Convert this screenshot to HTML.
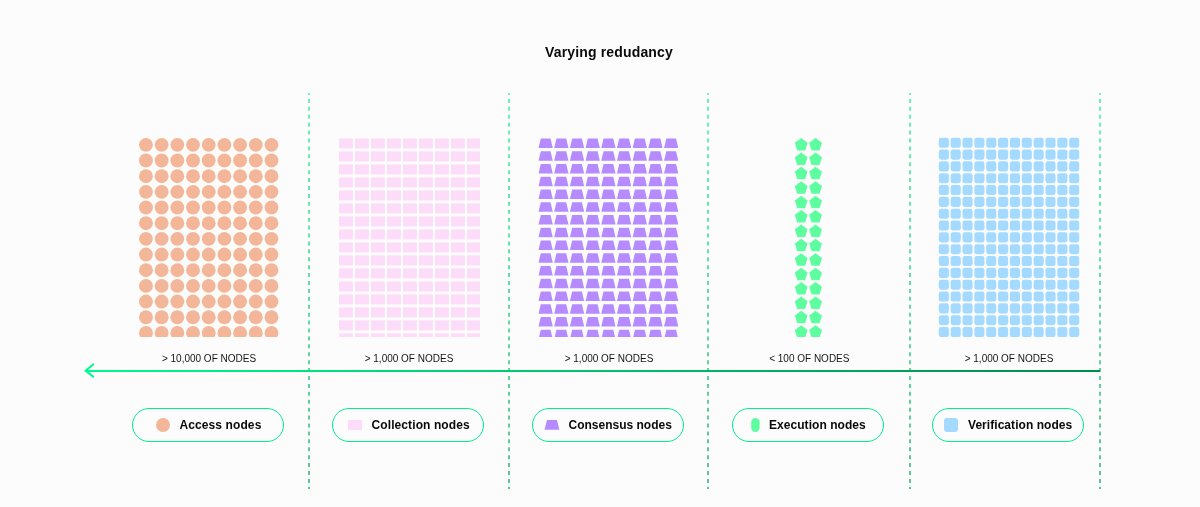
<!DOCTYPE html>
<html><head><meta charset="utf-8"><title>Varying redundancy</title>
<style>
html,body{margin:0;padding:0;background:#fcfcfc;}
body{width:1200px;height:507px;overflow:hidden;position:relative;font-family:"Liberation Sans",sans-serif;}
svg{position:absolute;left:0;top:0;display:block;will-change:transform}
</style></head><body>
<svg width="1200" height="507" viewBox="0 0 1200 507">
<defs>
<clipPath id="gc"><rect x="0" y="0" width="1200" height="337"/></clipPath>
<clipPath id="gc2"><rect x="0" y="0" width="480" height="337"/></clipPath>
<linearGradient id="vg" x1="0" y1="93" x2="0" y2="489" gradientUnits="userSpaceOnUse">
<stop offset="0" stop-color="#6ff2b8"/><stop offset="1" stop-color="#5bc594"/>
</linearGradient>
<linearGradient id="hg" x1="84" y1="0" x2="1100" y2="0" gradientUnits="userSpaceOnUse">
<stop offset="0" stop-color="#00fa8f"/><stop offset="1" stop-color="#008d4a"/>
</linearGradient>
</defs>
<text x="609" y="57.2" text-anchor="middle" font-family="Liberation Sans" font-weight="bold" font-size="14" letter-spacing="0.15" fill="#0a0a0a">Varying redudancy</text>
<g stroke="url(#vg)" stroke-width="2" stroke-dasharray="4 3.917" stroke-dashoffset="2" fill="none">
<line x1="309" y1="93" x2="309" y2="489"/>
<line x1="509" y1="93" x2="509" y2="489"/>
<line x1="708" y1="93" x2="708" y2="489"/>
<line x1="910" y1="93" x2="910" y2="489"/>
<line x1="1100" y1="93" x2="1100" y2="489"/>
</g>
<g clip-path="url(#gc)">
<g fill="#f4b698"><circle cx="145.95" cy="144.85" r="6.95"/><circle cx="161.64" cy="144.85" r="6.95"/><circle cx="177.33" cy="144.85" r="6.95"/><circle cx="193.02" cy="144.85" r="6.95"/><circle cx="208.71" cy="144.85" r="6.95"/><circle cx="224.4" cy="144.85" r="6.95"/><circle cx="240.09" cy="144.85" r="6.95"/><circle cx="255.78" cy="144.85" r="6.95"/><circle cx="271.47" cy="144.85" r="6.95"/><circle cx="145.95" cy="160.52" r="6.95"/><circle cx="161.64" cy="160.52" r="6.95"/><circle cx="177.33" cy="160.52" r="6.95"/><circle cx="193.02" cy="160.52" r="6.95"/><circle cx="208.71" cy="160.52" r="6.95"/><circle cx="224.4" cy="160.52" r="6.95"/><circle cx="240.09" cy="160.52" r="6.95"/><circle cx="255.78" cy="160.52" r="6.95"/><circle cx="271.47" cy="160.52" r="6.95"/><circle cx="145.95" cy="176.19" r="6.95"/><circle cx="161.64" cy="176.19" r="6.95"/><circle cx="177.33" cy="176.19" r="6.95"/><circle cx="193.02" cy="176.19" r="6.95"/><circle cx="208.71" cy="176.19" r="6.95"/><circle cx="224.4" cy="176.19" r="6.95"/><circle cx="240.09" cy="176.19" r="6.95"/><circle cx="255.78" cy="176.19" r="6.95"/><circle cx="271.47" cy="176.19" r="6.95"/><circle cx="145.95" cy="191.86" r="6.95"/><circle cx="161.64" cy="191.86" r="6.95"/><circle cx="177.33" cy="191.86" r="6.95"/><circle cx="193.02" cy="191.86" r="6.95"/><circle cx="208.71" cy="191.86" r="6.95"/><circle cx="224.4" cy="191.86" r="6.95"/><circle cx="240.09" cy="191.86" r="6.95"/><circle cx="255.78" cy="191.86" r="6.95"/><circle cx="271.47" cy="191.86" r="6.95"/><circle cx="145.95" cy="207.53" r="6.95"/><circle cx="161.64" cy="207.53" r="6.95"/><circle cx="177.33" cy="207.53" r="6.95"/><circle cx="193.02" cy="207.53" r="6.95"/><circle cx="208.71" cy="207.53" r="6.95"/><circle cx="224.4" cy="207.53" r="6.95"/><circle cx="240.09" cy="207.53" r="6.95"/><circle cx="255.78" cy="207.53" r="6.95"/><circle cx="271.47" cy="207.53" r="6.95"/><circle cx="145.95" cy="223.2" r="6.95"/><circle cx="161.64" cy="223.2" r="6.95"/><circle cx="177.33" cy="223.2" r="6.95"/><circle cx="193.02" cy="223.2" r="6.95"/><circle cx="208.71" cy="223.2" r="6.95"/><circle cx="224.4" cy="223.2" r="6.95"/><circle cx="240.09" cy="223.2" r="6.95"/><circle cx="255.78" cy="223.2" r="6.95"/><circle cx="271.47" cy="223.2" r="6.95"/><circle cx="145.95" cy="238.87" r="6.95"/><circle cx="161.64" cy="238.87" r="6.95"/><circle cx="177.33" cy="238.87" r="6.95"/><circle cx="193.02" cy="238.87" r="6.95"/><circle cx="208.71" cy="238.87" r="6.95"/><circle cx="224.4" cy="238.87" r="6.95"/><circle cx="240.09" cy="238.87" r="6.95"/><circle cx="255.78" cy="238.87" r="6.95"/><circle cx="271.47" cy="238.87" r="6.95"/><circle cx="145.95" cy="254.54" r="6.95"/><circle cx="161.64" cy="254.54" r="6.95"/><circle cx="177.33" cy="254.54" r="6.95"/><circle cx="193.02" cy="254.54" r="6.95"/><circle cx="208.71" cy="254.54" r="6.95"/><circle cx="224.4" cy="254.54" r="6.95"/><circle cx="240.09" cy="254.54" r="6.95"/><circle cx="255.78" cy="254.54" r="6.95"/><circle cx="271.47" cy="254.54" r="6.95"/><circle cx="145.95" cy="270.21" r="6.95"/><circle cx="161.64" cy="270.21" r="6.95"/><circle cx="177.33" cy="270.21" r="6.95"/><circle cx="193.02" cy="270.21" r="6.95"/><circle cx="208.71" cy="270.21" r="6.95"/><circle cx="224.4" cy="270.21" r="6.95"/><circle cx="240.09" cy="270.21" r="6.95"/><circle cx="255.78" cy="270.21" r="6.95"/><circle cx="271.47" cy="270.21" r="6.95"/><circle cx="145.95" cy="285.88" r="6.95"/><circle cx="161.64" cy="285.88" r="6.95"/><circle cx="177.33" cy="285.88" r="6.95"/><circle cx="193.02" cy="285.88" r="6.95"/><circle cx="208.71" cy="285.88" r="6.95"/><circle cx="224.4" cy="285.88" r="6.95"/><circle cx="240.09" cy="285.88" r="6.95"/><circle cx="255.78" cy="285.88" r="6.95"/><circle cx="271.47" cy="285.88" r="6.95"/><circle cx="145.95" cy="301.55" r="6.95"/><circle cx="161.64" cy="301.55" r="6.95"/><circle cx="177.33" cy="301.55" r="6.95"/><circle cx="193.02" cy="301.55" r="6.95"/><circle cx="208.71" cy="301.55" r="6.95"/><circle cx="224.4" cy="301.55" r="6.95"/><circle cx="240.09" cy="301.55" r="6.95"/><circle cx="255.78" cy="301.55" r="6.95"/><circle cx="271.47" cy="301.55" r="6.95"/><circle cx="145.95" cy="317.22" r="6.95"/><circle cx="161.64" cy="317.22" r="6.95"/><circle cx="177.33" cy="317.22" r="6.95"/><circle cx="193.02" cy="317.22" r="6.95"/><circle cx="208.71" cy="317.22" r="6.95"/><circle cx="224.4" cy="317.22" r="6.95"/><circle cx="240.09" cy="317.22" r="6.95"/><circle cx="255.78" cy="317.22" r="6.95"/><circle cx="271.47" cy="317.22" r="6.95"/><circle cx="145.95" cy="332.89" r="6.95"/><circle cx="161.64" cy="332.89" r="6.95"/><circle cx="177.33" cy="332.89" r="6.95"/><circle cx="193.02" cy="332.89" r="6.95"/><circle cx="208.71" cy="332.89" r="6.95"/><circle cx="224.4" cy="332.89" r="6.95"/><circle cx="240.09" cy="332.89" r="6.95"/><circle cx="255.78" cy="332.89" r="6.95"/><circle cx="271.47" cy="332.89" r="6.95"/></g>
<g fill="#fddcfa" clip-path="url(#gc2)"><rect x="339" y="138.4" width="13.9" height="10"/><rect x="355" y="138.4" width="13.9" height="10"/><rect x="371" y="138.4" width="13.9" height="10"/><rect x="387" y="138.4" width="13.9" height="10"/><rect x="403" y="138.4" width="13.9" height="10"/><rect x="419" y="138.4" width="13.9" height="10"/><rect x="435" y="138.4" width="13.9" height="10"/><rect x="451" y="138.4" width="13.9" height="10"/><rect x="467" y="138.4" width="13.9" height="10"/><rect x="339" y="151.4" width="13.9" height="10"/><rect x="355" y="151.4" width="13.9" height="10"/><rect x="371" y="151.4" width="13.9" height="10"/><rect x="387" y="151.4" width="13.9" height="10"/><rect x="403" y="151.4" width="13.9" height="10"/><rect x="419" y="151.4" width="13.9" height="10"/><rect x="435" y="151.4" width="13.9" height="10"/><rect x="451" y="151.4" width="13.9" height="10"/><rect x="467" y="151.4" width="13.9" height="10"/><rect x="339" y="164.4" width="13.9" height="10"/><rect x="355" y="164.4" width="13.9" height="10"/><rect x="371" y="164.4" width="13.9" height="10"/><rect x="387" y="164.4" width="13.9" height="10"/><rect x="403" y="164.4" width="13.9" height="10"/><rect x="419" y="164.4" width="13.9" height="10"/><rect x="435" y="164.4" width="13.9" height="10"/><rect x="451" y="164.4" width="13.9" height="10"/><rect x="467" y="164.4" width="13.9" height="10"/><rect x="339" y="177.4" width="13.9" height="10"/><rect x="355" y="177.4" width="13.9" height="10"/><rect x="371" y="177.4" width="13.9" height="10"/><rect x="387" y="177.4" width="13.9" height="10"/><rect x="403" y="177.4" width="13.9" height="10"/><rect x="419" y="177.4" width="13.9" height="10"/><rect x="435" y="177.4" width="13.9" height="10"/><rect x="451" y="177.4" width="13.9" height="10"/><rect x="467" y="177.4" width="13.9" height="10"/><rect x="339" y="190.4" width="13.9" height="10"/><rect x="355" y="190.4" width="13.9" height="10"/><rect x="371" y="190.4" width="13.9" height="10"/><rect x="387" y="190.4" width="13.9" height="10"/><rect x="403" y="190.4" width="13.9" height="10"/><rect x="419" y="190.4" width="13.9" height="10"/><rect x="435" y="190.4" width="13.9" height="10"/><rect x="451" y="190.4" width="13.9" height="10"/><rect x="467" y="190.4" width="13.9" height="10"/><rect x="339" y="203.4" width="13.9" height="10"/><rect x="355" y="203.4" width="13.9" height="10"/><rect x="371" y="203.4" width="13.9" height="10"/><rect x="387" y="203.4" width="13.9" height="10"/><rect x="403" y="203.4" width="13.9" height="10"/><rect x="419" y="203.4" width="13.9" height="10"/><rect x="435" y="203.4" width="13.9" height="10"/><rect x="451" y="203.4" width="13.9" height="10"/><rect x="467" y="203.4" width="13.9" height="10"/><rect x="339" y="216.4" width="13.9" height="10"/><rect x="355" y="216.4" width="13.9" height="10"/><rect x="371" y="216.4" width="13.9" height="10"/><rect x="387" y="216.4" width="13.9" height="10"/><rect x="403" y="216.4" width="13.9" height="10"/><rect x="419" y="216.4" width="13.9" height="10"/><rect x="435" y="216.4" width="13.9" height="10"/><rect x="451" y="216.4" width="13.9" height="10"/><rect x="467" y="216.4" width="13.9" height="10"/><rect x="339" y="229.4" width="13.9" height="10"/><rect x="355" y="229.4" width="13.9" height="10"/><rect x="371" y="229.4" width="13.9" height="10"/><rect x="387" y="229.4" width="13.9" height="10"/><rect x="403" y="229.4" width="13.9" height="10"/><rect x="419" y="229.4" width="13.9" height="10"/><rect x="435" y="229.4" width="13.9" height="10"/><rect x="451" y="229.4" width="13.9" height="10"/><rect x="467" y="229.4" width="13.9" height="10"/><rect x="339" y="242.4" width="13.9" height="10"/><rect x="355" y="242.4" width="13.9" height="10"/><rect x="371" y="242.4" width="13.9" height="10"/><rect x="387" y="242.4" width="13.9" height="10"/><rect x="403" y="242.4" width="13.9" height="10"/><rect x="419" y="242.4" width="13.9" height="10"/><rect x="435" y="242.4" width="13.9" height="10"/><rect x="451" y="242.4" width="13.9" height="10"/><rect x="467" y="242.4" width="13.9" height="10"/><rect x="339" y="255.4" width="13.9" height="10"/><rect x="355" y="255.4" width="13.9" height="10"/><rect x="371" y="255.4" width="13.9" height="10"/><rect x="387" y="255.4" width="13.9" height="10"/><rect x="403" y="255.4" width="13.9" height="10"/><rect x="419" y="255.4" width="13.9" height="10"/><rect x="435" y="255.4" width="13.9" height="10"/><rect x="451" y="255.4" width="13.9" height="10"/><rect x="467" y="255.4" width="13.9" height="10"/><rect x="339" y="268.4" width="13.9" height="10"/><rect x="355" y="268.4" width="13.9" height="10"/><rect x="371" y="268.4" width="13.9" height="10"/><rect x="387" y="268.4" width="13.9" height="10"/><rect x="403" y="268.4" width="13.9" height="10"/><rect x="419" y="268.4" width="13.9" height="10"/><rect x="435" y="268.4" width="13.9" height="10"/><rect x="451" y="268.4" width="13.9" height="10"/><rect x="467" y="268.4" width="13.9" height="10"/><rect x="339" y="281.4" width="13.9" height="10"/><rect x="355" y="281.4" width="13.9" height="10"/><rect x="371" y="281.4" width="13.9" height="10"/><rect x="387" y="281.4" width="13.9" height="10"/><rect x="403" y="281.4" width="13.9" height="10"/><rect x="419" y="281.4" width="13.9" height="10"/><rect x="435" y="281.4" width="13.9" height="10"/><rect x="451" y="281.4" width="13.9" height="10"/><rect x="467" y="281.4" width="13.9" height="10"/><rect x="339" y="294.4" width="13.9" height="10"/><rect x="355" y="294.4" width="13.9" height="10"/><rect x="371" y="294.4" width="13.9" height="10"/><rect x="387" y="294.4" width="13.9" height="10"/><rect x="403" y="294.4" width="13.9" height="10"/><rect x="419" y="294.4" width="13.9" height="10"/><rect x="435" y="294.4" width="13.9" height="10"/><rect x="451" y="294.4" width="13.9" height="10"/><rect x="467" y="294.4" width="13.9" height="10"/><rect x="339" y="307.4" width="13.9" height="10"/><rect x="355" y="307.4" width="13.9" height="10"/><rect x="371" y="307.4" width="13.9" height="10"/><rect x="387" y="307.4" width="13.9" height="10"/><rect x="403" y="307.4" width="13.9" height="10"/><rect x="419" y="307.4" width="13.9" height="10"/><rect x="435" y="307.4" width="13.9" height="10"/><rect x="451" y="307.4" width="13.9" height="10"/><rect x="467" y="307.4" width="13.9" height="10"/><rect x="339" y="320.4" width="13.9" height="10"/><rect x="355" y="320.4" width="13.9" height="10"/><rect x="371" y="320.4" width="13.9" height="10"/><rect x="387" y="320.4" width="13.9" height="10"/><rect x="403" y="320.4" width="13.9" height="10"/><rect x="419" y="320.4" width="13.9" height="10"/><rect x="435" y="320.4" width="13.9" height="10"/><rect x="451" y="320.4" width="13.9" height="10"/><rect x="467" y="320.4" width="13.9" height="10"/><rect x="339" y="333.4" width="13.9" height="10"/><rect x="355" y="333.4" width="13.9" height="10"/><rect x="371" y="333.4" width="13.9" height="10"/><rect x="387" y="333.4" width="13.9" height="10"/><rect x="403" y="333.4" width="13.9" height="10"/><rect x="419" y="333.4" width="13.9" height="10"/><rect x="435" y="333.4" width="13.9" height="10"/><rect x="451" y="333.4" width="13.9" height="10"/><rect x="467" y="333.4" width="13.9" height="10"/></g>
<g fill="#b68bff"><path d="M540.8 138.5h9.7l2.3 9.6h-14.3z"/><path d="M556.49 138.5h9.7l2.3 9.6h-14.3z"/><path d="M572.18 138.5h9.7l2.3 9.6h-14.3z"/><path d="M587.87 138.5h9.7l2.3 9.6h-14.3z"/><path d="M603.56 138.5h9.7l2.3 9.6h-14.3z"/><path d="M619.25 138.5h9.7l2.3 9.6h-14.3z"/><path d="M634.94 138.5h9.7l2.3 9.6h-14.3z"/><path d="M650.63 138.5h9.7l2.3 9.6h-14.3z"/><path d="M666.32 138.5h9.7l2.3 9.6h-14.3z"/><path d="M540.8 151.25h9.7l2.3 9.6h-14.3z"/><path d="M556.49 151.25h9.7l2.3 9.6h-14.3z"/><path d="M572.18 151.25h9.7l2.3 9.6h-14.3z"/><path d="M587.87 151.25h9.7l2.3 9.6h-14.3z"/><path d="M603.56 151.25h9.7l2.3 9.6h-14.3z"/><path d="M619.25 151.25h9.7l2.3 9.6h-14.3z"/><path d="M634.94 151.25h9.7l2.3 9.6h-14.3z"/><path d="M650.63 151.25h9.7l2.3 9.6h-14.3z"/><path d="M666.32 151.25h9.7l2.3 9.6h-14.3z"/><path d="M540.8 164h9.7l2.3 9.6h-14.3z"/><path d="M556.49 164h9.7l2.3 9.6h-14.3z"/><path d="M572.18 164h9.7l2.3 9.6h-14.3z"/><path d="M587.87 164h9.7l2.3 9.6h-14.3z"/><path d="M603.56 164h9.7l2.3 9.6h-14.3z"/><path d="M619.25 164h9.7l2.3 9.6h-14.3z"/><path d="M634.94 164h9.7l2.3 9.6h-14.3z"/><path d="M650.63 164h9.7l2.3 9.6h-14.3z"/><path d="M666.32 164h9.7l2.3 9.6h-14.3z"/><path d="M540.8 176.75h9.7l2.3 9.6h-14.3z"/><path d="M556.49 176.75h9.7l2.3 9.6h-14.3z"/><path d="M572.18 176.75h9.7l2.3 9.6h-14.3z"/><path d="M587.87 176.75h9.7l2.3 9.6h-14.3z"/><path d="M603.56 176.75h9.7l2.3 9.6h-14.3z"/><path d="M619.25 176.75h9.7l2.3 9.6h-14.3z"/><path d="M634.94 176.75h9.7l2.3 9.6h-14.3z"/><path d="M650.63 176.75h9.7l2.3 9.6h-14.3z"/><path d="M666.32 176.75h9.7l2.3 9.6h-14.3z"/><path d="M540.8 189.5h9.7l2.3 9.6h-14.3z"/><path d="M556.49 189.5h9.7l2.3 9.6h-14.3z"/><path d="M572.18 189.5h9.7l2.3 9.6h-14.3z"/><path d="M587.87 189.5h9.7l2.3 9.6h-14.3z"/><path d="M603.56 189.5h9.7l2.3 9.6h-14.3z"/><path d="M619.25 189.5h9.7l2.3 9.6h-14.3z"/><path d="M634.94 189.5h9.7l2.3 9.6h-14.3z"/><path d="M650.63 189.5h9.7l2.3 9.6h-14.3z"/><path d="M666.32 189.5h9.7l2.3 9.6h-14.3z"/><path d="M540.8 202.25h9.7l2.3 9.6h-14.3z"/><path d="M556.49 202.25h9.7l2.3 9.6h-14.3z"/><path d="M572.18 202.25h9.7l2.3 9.6h-14.3z"/><path d="M587.87 202.25h9.7l2.3 9.6h-14.3z"/><path d="M603.56 202.25h9.7l2.3 9.6h-14.3z"/><path d="M619.25 202.25h9.7l2.3 9.6h-14.3z"/><path d="M634.94 202.25h9.7l2.3 9.6h-14.3z"/><path d="M650.63 202.25h9.7l2.3 9.6h-14.3z"/><path d="M666.32 202.25h9.7l2.3 9.6h-14.3z"/><path d="M540.8 215h9.7l2.3 9.6h-14.3z"/><path d="M556.49 215h9.7l2.3 9.6h-14.3z"/><path d="M572.18 215h9.7l2.3 9.6h-14.3z"/><path d="M587.87 215h9.7l2.3 9.6h-14.3z"/><path d="M603.56 215h9.7l2.3 9.6h-14.3z"/><path d="M619.25 215h9.7l2.3 9.6h-14.3z"/><path d="M634.94 215h9.7l2.3 9.6h-14.3z"/><path d="M650.63 215h9.7l2.3 9.6h-14.3z"/><path d="M666.32 215h9.7l2.3 9.6h-14.3z"/><path d="M540.8 227.75h9.7l2.3 9.6h-14.3z"/><path d="M556.49 227.75h9.7l2.3 9.6h-14.3z"/><path d="M572.18 227.75h9.7l2.3 9.6h-14.3z"/><path d="M587.87 227.75h9.7l2.3 9.6h-14.3z"/><path d="M603.56 227.75h9.7l2.3 9.6h-14.3z"/><path d="M619.25 227.75h9.7l2.3 9.6h-14.3z"/><path d="M634.94 227.75h9.7l2.3 9.6h-14.3z"/><path d="M650.63 227.75h9.7l2.3 9.6h-14.3z"/><path d="M666.32 227.75h9.7l2.3 9.6h-14.3z"/><path d="M540.8 240.5h9.7l2.3 9.6h-14.3z"/><path d="M556.49 240.5h9.7l2.3 9.6h-14.3z"/><path d="M572.18 240.5h9.7l2.3 9.6h-14.3z"/><path d="M587.87 240.5h9.7l2.3 9.6h-14.3z"/><path d="M603.56 240.5h9.7l2.3 9.6h-14.3z"/><path d="M619.25 240.5h9.7l2.3 9.6h-14.3z"/><path d="M634.94 240.5h9.7l2.3 9.6h-14.3z"/><path d="M650.63 240.5h9.7l2.3 9.6h-14.3z"/><path d="M666.32 240.5h9.7l2.3 9.6h-14.3z"/><path d="M540.8 253.25h9.7l2.3 9.6h-14.3z"/><path d="M556.49 253.25h9.7l2.3 9.6h-14.3z"/><path d="M572.18 253.25h9.7l2.3 9.6h-14.3z"/><path d="M587.87 253.25h9.7l2.3 9.6h-14.3z"/><path d="M603.56 253.25h9.7l2.3 9.6h-14.3z"/><path d="M619.25 253.25h9.7l2.3 9.6h-14.3z"/><path d="M634.94 253.25h9.7l2.3 9.6h-14.3z"/><path d="M650.63 253.25h9.7l2.3 9.6h-14.3z"/><path d="M666.32 253.25h9.7l2.3 9.6h-14.3z"/><path d="M540.8 266h9.7l2.3 9.6h-14.3z"/><path d="M556.49 266h9.7l2.3 9.6h-14.3z"/><path d="M572.18 266h9.7l2.3 9.6h-14.3z"/><path d="M587.87 266h9.7l2.3 9.6h-14.3z"/><path d="M603.56 266h9.7l2.3 9.6h-14.3z"/><path d="M619.25 266h9.7l2.3 9.6h-14.3z"/><path d="M634.94 266h9.7l2.3 9.6h-14.3z"/><path d="M650.63 266h9.7l2.3 9.6h-14.3z"/><path d="M666.32 266h9.7l2.3 9.6h-14.3z"/><path d="M540.8 278.75h9.7l2.3 9.6h-14.3z"/><path d="M556.49 278.75h9.7l2.3 9.6h-14.3z"/><path d="M572.18 278.75h9.7l2.3 9.6h-14.3z"/><path d="M587.87 278.75h9.7l2.3 9.6h-14.3z"/><path d="M603.56 278.75h9.7l2.3 9.6h-14.3z"/><path d="M619.25 278.75h9.7l2.3 9.6h-14.3z"/><path d="M634.94 278.75h9.7l2.3 9.6h-14.3z"/><path d="M650.63 278.75h9.7l2.3 9.6h-14.3z"/><path d="M666.32 278.75h9.7l2.3 9.6h-14.3z"/><path d="M540.8 291.5h9.7l2.3 9.6h-14.3z"/><path d="M556.49 291.5h9.7l2.3 9.6h-14.3z"/><path d="M572.18 291.5h9.7l2.3 9.6h-14.3z"/><path d="M587.87 291.5h9.7l2.3 9.6h-14.3z"/><path d="M603.56 291.5h9.7l2.3 9.6h-14.3z"/><path d="M619.25 291.5h9.7l2.3 9.6h-14.3z"/><path d="M634.94 291.5h9.7l2.3 9.6h-14.3z"/><path d="M650.63 291.5h9.7l2.3 9.6h-14.3z"/><path d="M666.32 291.5h9.7l2.3 9.6h-14.3z"/><path d="M540.8 304.25h9.7l2.3 9.6h-14.3z"/><path d="M556.49 304.25h9.7l2.3 9.6h-14.3z"/><path d="M572.18 304.25h9.7l2.3 9.6h-14.3z"/><path d="M587.87 304.25h9.7l2.3 9.6h-14.3z"/><path d="M603.56 304.25h9.7l2.3 9.6h-14.3z"/><path d="M619.25 304.25h9.7l2.3 9.6h-14.3z"/><path d="M634.94 304.25h9.7l2.3 9.6h-14.3z"/><path d="M650.63 304.25h9.7l2.3 9.6h-14.3z"/><path d="M666.32 304.25h9.7l2.3 9.6h-14.3z"/><path d="M540.8 317h9.7l2.3 9.6h-14.3z"/><path d="M556.49 317h9.7l2.3 9.6h-14.3z"/><path d="M572.18 317h9.7l2.3 9.6h-14.3z"/><path d="M587.87 317h9.7l2.3 9.6h-14.3z"/><path d="M603.56 317h9.7l2.3 9.6h-14.3z"/><path d="M619.25 317h9.7l2.3 9.6h-14.3z"/><path d="M634.94 317h9.7l2.3 9.6h-14.3z"/><path d="M650.63 317h9.7l2.3 9.6h-14.3z"/><path d="M666.32 317h9.7l2.3 9.6h-14.3z"/><path d="M540.8 329.75h9.7l2.3 9.6h-14.3z"/><path d="M556.49 329.75h9.7l2.3 9.6h-14.3z"/><path d="M572.18 329.75h9.7l2.3 9.6h-14.3z"/><path d="M587.87 329.75h9.7l2.3 9.6h-14.3z"/><path d="M603.56 329.75h9.7l2.3 9.6h-14.3z"/><path d="M619.25 329.75h9.7l2.3 9.6h-14.3z"/><path d="M634.94 329.75h9.7l2.3 9.6h-14.3z"/><path d="M650.63 329.75h9.7l2.3 9.6h-14.3z"/><path d="M666.32 329.75h9.7l2.3 9.6h-14.3z"/></g>
<g fill="#5dfda0"><path d="M801.2 138.05 L807.57 142.82 L805.14 150.53 L797.26 150.53 L794.83 142.82Z"/><path d="M815.6 138.05 L821.97 142.82 L819.54 150.53 L811.66 150.53 L809.23 142.82Z"/><path d="M801.2 152.45 L807.57 157.22 L805.14 164.93 L797.26 164.93 L794.83 157.22Z"/><path d="M815.6 152.45 L821.97 157.22 L819.54 164.93 L811.66 164.93 L809.23 157.22Z"/><path d="M801.2 166.85 L807.57 171.62 L805.14 179.33 L797.26 179.33 L794.83 171.62Z"/><path d="M815.6 166.85 L821.97 171.62 L819.54 179.33 L811.66 179.33 L809.23 171.62Z"/><path d="M801.2 181.25 L807.57 186.02 L805.14 193.73 L797.26 193.73 L794.83 186.02Z"/><path d="M815.6 181.25 L821.97 186.02 L819.54 193.73 L811.66 193.73 L809.23 186.02Z"/><path d="M801.2 195.65 L807.57 200.42 L805.14 208.13 L797.26 208.13 L794.83 200.42Z"/><path d="M815.6 195.65 L821.97 200.42 L819.54 208.13 L811.66 208.13 L809.23 200.42Z"/><path d="M801.2 210.05 L807.57 214.82 L805.14 222.53 L797.26 222.53 L794.83 214.82Z"/><path d="M815.6 210.05 L821.97 214.82 L819.54 222.53 L811.66 222.53 L809.23 214.82Z"/><path d="M801.2 224.45 L807.57 229.22 L805.14 236.93 L797.26 236.93 L794.83 229.22Z"/><path d="M815.6 224.45 L821.97 229.22 L819.54 236.93 L811.66 236.93 L809.23 229.22Z"/><path d="M801.2 238.85 L807.57 243.62 L805.14 251.33 L797.26 251.33 L794.83 243.62Z"/><path d="M815.6 238.85 L821.97 243.62 L819.54 251.33 L811.66 251.33 L809.23 243.62Z"/><path d="M801.2 253.25 L807.57 258.02 L805.14 265.73 L797.26 265.73 L794.83 258.02Z"/><path d="M815.6 253.25 L821.97 258.02 L819.54 265.73 L811.66 265.73 L809.23 258.02Z"/><path d="M801.2 267.65 L807.57 272.42 L805.14 280.13 L797.26 280.13 L794.83 272.42Z"/><path d="M815.6 267.65 L821.97 272.42 L819.54 280.13 L811.66 280.13 L809.23 272.42Z"/><path d="M801.2 282.05 L807.57 286.82 L805.14 294.53 L797.26 294.53 L794.83 286.82Z"/><path d="M815.6 282.05 L821.97 286.82 L819.54 294.53 L811.66 294.53 L809.23 286.82Z"/><path d="M801.2 296.45 L807.57 301.22 L805.14 308.93 L797.26 308.93 L794.83 301.22Z"/><path d="M815.6 296.45 L821.97 301.22 L819.54 308.93 L811.66 308.93 L809.23 301.22Z"/><path d="M801.2 310.85 L807.57 315.62 L805.14 323.33 L797.26 323.33 L794.83 315.62Z"/><path d="M815.6 310.85 L821.97 315.62 L819.54 323.33 L811.66 323.33 L809.23 315.62Z"/><path d="M801.2 325.25 L807.57 330.02 L805.14 337.73 L797.26 337.73 L794.83 330.02Z"/><path d="M815.6 325.25 L821.97 330.02 L819.54 337.73 L811.66 337.73 L809.23 330.02Z"/></g>
<g fill="#a4daff"><rect x="938.8" y="137.7" width="10.1" height="10.1" rx="2.4"/><rect x="950.65" y="137.7" width="10.1" height="10.1" rx="2.4"/><rect x="962.5" y="137.7" width="10.1" height="10.1" rx="2.4"/><rect x="974.35" y="137.7" width="10.1" height="10.1" rx="2.4"/><rect x="986.2" y="137.7" width="10.1" height="10.1" rx="2.4"/><rect x="998.05" y="137.7" width="10.1" height="10.1" rx="2.4"/><rect x="1009.9" y="137.7" width="10.1" height="10.1" rx="2.4"/><rect x="1021.75" y="137.7" width="10.1" height="10.1" rx="2.4"/><rect x="1033.6" y="137.7" width="10.1" height="10.1" rx="2.4"/><rect x="1045.45" y="137.7" width="10.1" height="10.1" rx="2.4"/><rect x="1057.3" y="137.7" width="10.1" height="10.1" rx="2.4"/><rect x="1069.15" y="137.7" width="10.1" height="10.1" rx="2.4"/><rect x="938.8" y="149.53" width="10.1" height="10.1" rx="2.4"/><rect x="950.65" y="149.53" width="10.1" height="10.1" rx="2.4"/><rect x="962.5" y="149.53" width="10.1" height="10.1" rx="2.4"/><rect x="974.35" y="149.53" width="10.1" height="10.1" rx="2.4"/><rect x="986.2" y="149.53" width="10.1" height="10.1" rx="2.4"/><rect x="998.05" y="149.53" width="10.1" height="10.1" rx="2.4"/><rect x="1009.9" y="149.53" width="10.1" height="10.1" rx="2.4"/><rect x="1021.75" y="149.53" width="10.1" height="10.1" rx="2.4"/><rect x="1033.6" y="149.53" width="10.1" height="10.1" rx="2.4"/><rect x="1045.45" y="149.53" width="10.1" height="10.1" rx="2.4"/><rect x="1057.3" y="149.53" width="10.1" height="10.1" rx="2.4"/><rect x="1069.15" y="149.53" width="10.1" height="10.1" rx="2.4"/><rect x="938.8" y="161.36" width="10.1" height="10.1" rx="2.4"/><rect x="950.65" y="161.36" width="10.1" height="10.1" rx="2.4"/><rect x="962.5" y="161.36" width="10.1" height="10.1" rx="2.4"/><rect x="974.35" y="161.36" width="10.1" height="10.1" rx="2.4"/><rect x="986.2" y="161.36" width="10.1" height="10.1" rx="2.4"/><rect x="998.05" y="161.36" width="10.1" height="10.1" rx="2.4"/><rect x="1009.9" y="161.36" width="10.1" height="10.1" rx="2.4"/><rect x="1021.75" y="161.36" width="10.1" height="10.1" rx="2.4"/><rect x="1033.6" y="161.36" width="10.1" height="10.1" rx="2.4"/><rect x="1045.45" y="161.36" width="10.1" height="10.1" rx="2.4"/><rect x="1057.3" y="161.36" width="10.1" height="10.1" rx="2.4"/><rect x="1069.15" y="161.36" width="10.1" height="10.1" rx="2.4"/><rect x="938.8" y="173.19" width="10.1" height="10.1" rx="2.4"/><rect x="950.65" y="173.19" width="10.1" height="10.1" rx="2.4"/><rect x="962.5" y="173.19" width="10.1" height="10.1" rx="2.4"/><rect x="974.35" y="173.19" width="10.1" height="10.1" rx="2.4"/><rect x="986.2" y="173.19" width="10.1" height="10.1" rx="2.4"/><rect x="998.05" y="173.19" width="10.1" height="10.1" rx="2.4"/><rect x="1009.9" y="173.19" width="10.1" height="10.1" rx="2.4"/><rect x="1021.75" y="173.19" width="10.1" height="10.1" rx="2.4"/><rect x="1033.6" y="173.19" width="10.1" height="10.1" rx="2.4"/><rect x="1045.45" y="173.19" width="10.1" height="10.1" rx="2.4"/><rect x="1057.3" y="173.19" width="10.1" height="10.1" rx="2.4"/><rect x="1069.15" y="173.19" width="10.1" height="10.1" rx="2.4"/><rect x="938.8" y="185.02" width="10.1" height="10.1" rx="2.4"/><rect x="950.65" y="185.02" width="10.1" height="10.1" rx="2.4"/><rect x="962.5" y="185.02" width="10.1" height="10.1" rx="2.4"/><rect x="974.35" y="185.02" width="10.1" height="10.1" rx="2.4"/><rect x="986.2" y="185.02" width="10.1" height="10.1" rx="2.4"/><rect x="998.05" y="185.02" width="10.1" height="10.1" rx="2.4"/><rect x="1009.9" y="185.02" width="10.1" height="10.1" rx="2.4"/><rect x="1021.75" y="185.02" width="10.1" height="10.1" rx="2.4"/><rect x="1033.6" y="185.02" width="10.1" height="10.1" rx="2.4"/><rect x="1045.45" y="185.02" width="10.1" height="10.1" rx="2.4"/><rect x="1057.3" y="185.02" width="10.1" height="10.1" rx="2.4"/><rect x="1069.15" y="185.02" width="10.1" height="10.1" rx="2.4"/><rect x="938.8" y="196.85" width="10.1" height="10.1" rx="2.4"/><rect x="950.65" y="196.85" width="10.1" height="10.1" rx="2.4"/><rect x="962.5" y="196.85" width="10.1" height="10.1" rx="2.4"/><rect x="974.35" y="196.85" width="10.1" height="10.1" rx="2.4"/><rect x="986.2" y="196.85" width="10.1" height="10.1" rx="2.4"/><rect x="998.05" y="196.85" width="10.1" height="10.1" rx="2.4"/><rect x="1009.9" y="196.85" width="10.1" height="10.1" rx="2.4"/><rect x="1021.75" y="196.85" width="10.1" height="10.1" rx="2.4"/><rect x="1033.6" y="196.85" width="10.1" height="10.1" rx="2.4"/><rect x="1045.45" y="196.85" width="10.1" height="10.1" rx="2.4"/><rect x="1057.3" y="196.85" width="10.1" height="10.1" rx="2.4"/><rect x="1069.15" y="196.85" width="10.1" height="10.1" rx="2.4"/><rect x="938.8" y="208.68" width="10.1" height="10.1" rx="2.4"/><rect x="950.65" y="208.68" width="10.1" height="10.1" rx="2.4"/><rect x="962.5" y="208.68" width="10.1" height="10.1" rx="2.4"/><rect x="974.35" y="208.68" width="10.1" height="10.1" rx="2.4"/><rect x="986.2" y="208.68" width="10.1" height="10.1" rx="2.4"/><rect x="998.05" y="208.68" width="10.1" height="10.1" rx="2.4"/><rect x="1009.9" y="208.68" width="10.1" height="10.1" rx="2.4"/><rect x="1021.75" y="208.68" width="10.1" height="10.1" rx="2.4"/><rect x="1033.6" y="208.68" width="10.1" height="10.1" rx="2.4"/><rect x="1045.45" y="208.68" width="10.1" height="10.1" rx="2.4"/><rect x="1057.3" y="208.68" width="10.1" height="10.1" rx="2.4"/><rect x="1069.15" y="208.68" width="10.1" height="10.1" rx="2.4"/><rect x="938.8" y="220.51" width="10.1" height="10.1" rx="2.4"/><rect x="950.65" y="220.51" width="10.1" height="10.1" rx="2.4"/><rect x="962.5" y="220.51" width="10.1" height="10.1" rx="2.4"/><rect x="974.35" y="220.51" width="10.1" height="10.1" rx="2.4"/><rect x="986.2" y="220.51" width="10.1" height="10.1" rx="2.4"/><rect x="998.05" y="220.51" width="10.1" height="10.1" rx="2.4"/><rect x="1009.9" y="220.51" width="10.1" height="10.1" rx="2.4"/><rect x="1021.75" y="220.51" width="10.1" height="10.1" rx="2.4"/><rect x="1033.6" y="220.51" width="10.1" height="10.1" rx="2.4"/><rect x="1045.45" y="220.51" width="10.1" height="10.1" rx="2.4"/><rect x="1057.3" y="220.51" width="10.1" height="10.1" rx="2.4"/><rect x="1069.15" y="220.51" width="10.1" height="10.1" rx="2.4"/><rect x="938.8" y="232.34" width="10.1" height="10.1" rx="2.4"/><rect x="950.65" y="232.34" width="10.1" height="10.1" rx="2.4"/><rect x="962.5" y="232.34" width="10.1" height="10.1" rx="2.4"/><rect x="974.35" y="232.34" width="10.1" height="10.1" rx="2.4"/><rect x="986.2" y="232.34" width="10.1" height="10.1" rx="2.4"/><rect x="998.05" y="232.34" width="10.1" height="10.1" rx="2.4"/><rect x="1009.9" y="232.34" width="10.1" height="10.1" rx="2.4"/><rect x="1021.75" y="232.34" width="10.1" height="10.1" rx="2.4"/><rect x="1033.6" y="232.34" width="10.1" height="10.1" rx="2.4"/><rect x="1045.45" y="232.34" width="10.1" height="10.1" rx="2.4"/><rect x="1057.3" y="232.34" width="10.1" height="10.1" rx="2.4"/><rect x="1069.15" y="232.34" width="10.1" height="10.1" rx="2.4"/><rect x="938.8" y="244.17" width="10.1" height="10.1" rx="2.4"/><rect x="950.65" y="244.17" width="10.1" height="10.1" rx="2.4"/><rect x="962.5" y="244.17" width="10.1" height="10.1" rx="2.4"/><rect x="974.35" y="244.17" width="10.1" height="10.1" rx="2.4"/><rect x="986.2" y="244.17" width="10.1" height="10.1" rx="2.4"/><rect x="998.05" y="244.17" width="10.1" height="10.1" rx="2.4"/><rect x="1009.9" y="244.17" width="10.1" height="10.1" rx="2.4"/><rect x="1021.75" y="244.17" width="10.1" height="10.1" rx="2.4"/><rect x="1033.6" y="244.17" width="10.1" height="10.1" rx="2.4"/><rect x="1045.45" y="244.17" width="10.1" height="10.1" rx="2.4"/><rect x="1057.3" y="244.17" width="10.1" height="10.1" rx="2.4"/><rect x="1069.15" y="244.17" width="10.1" height="10.1" rx="2.4"/><rect x="938.8" y="256" width="10.1" height="10.1" rx="2.4"/><rect x="950.65" y="256" width="10.1" height="10.1" rx="2.4"/><rect x="962.5" y="256" width="10.1" height="10.1" rx="2.4"/><rect x="974.35" y="256" width="10.1" height="10.1" rx="2.4"/><rect x="986.2" y="256" width="10.1" height="10.1" rx="2.4"/><rect x="998.05" y="256" width="10.1" height="10.1" rx="2.4"/><rect x="1009.9" y="256" width="10.1" height="10.1" rx="2.4"/><rect x="1021.75" y="256" width="10.1" height="10.1" rx="2.4"/><rect x="1033.6" y="256" width="10.1" height="10.1" rx="2.4"/><rect x="1045.45" y="256" width="10.1" height="10.1" rx="2.4"/><rect x="1057.3" y="256" width="10.1" height="10.1" rx="2.4"/><rect x="1069.15" y="256" width="10.1" height="10.1" rx="2.4"/><rect x="938.8" y="267.83" width="10.1" height="10.1" rx="2.4"/><rect x="950.65" y="267.83" width="10.1" height="10.1" rx="2.4"/><rect x="962.5" y="267.83" width="10.1" height="10.1" rx="2.4"/><rect x="974.35" y="267.83" width="10.1" height="10.1" rx="2.4"/><rect x="986.2" y="267.83" width="10.1" height="10.1" rx="2.4"/><rect x="998.05" y="267.83" width="10.1" height="10.1" rx="2.4"/><rect x="1009.9" y="267.83" width="10.1" height="10.1" rx="2.4"/><rect x="1021.75" y="267.83" width="10.1" height="10.1" rx="2.4"/><rect x="1033.6" y="267.83" width="10.1" height="10.1" rx="2.4"/><rect x="1045.45" y="267.83" width="10.1" height="10.1" rx="2.4"/><rect x="1057.3" y="267.83" width="10.1" height="10.1" rx="2.4"/><rect x="1069.15" y="267.83" width="10.1" height="10.1" rx="2.4"/><rect x="938.8" y="279.66" width="10.1" height="10.1" rx="2.4"/><rect x="950.65" y="279.66" width="10.1" height="10.1" rx="2.4"/><rect x="962.5" y="279.66" width="10.1" height="10.1" rx="2.4"/><rect x="974.35" y="279.66" width="10.1" height="10.1" rx="2.4"/><rect x="986.2" y="279.66" width="10.1" height="10.1" rx="2.4"/><rect x="998.05" y="279.66" width="10.1" height="10.1" rx="2.4"/><rect x="1009.9" y="279.66" width="10.1" height="10.1" rx="2.4"/><rect x="1021.75" y="279.66" width="10.1" height="10.1" rx="2.4"/><rect x="1033.6" y="279.66" width="10.1" height="10.1" rx="2.4"/><rect x="1045.45" y="279.66" width="10.1" height="10.1" rx="2.4"/><rect x="1057.3" y="279.66" width="10.1" height="10.1" rx="2.4"/><rect x="1069.15" y="279.66" width="10.1" height="10.1" rx="2.4"/><rect x="938.8" y="291.49" width="10.1" height="10.1" rx="2.4"/><rect x="950.65" y="291.49" width="10.1" height="10.1" rx="2.4"/><rect x="962.5" y="291.49" width="10.1" height="10.1" rx="2.4"/><rect x="974.35" y="291.49" width="10.1" height="10.1" rx="2.4"/><rect x="986.2" y="291.49" width="10.1" height="10.1" rx="2.4"/><rect x="998.05" y="291.49" width="10.1" height="10.1" rx="2.4"/><rect x="1009.9" y="291.49" width="10.1" height="10.1" rx="2.4"/><rect x="1021.75" y="291.49" width="10.1" height="10.1" rx="2.4"/><rect x="1033.6" y="291.49" width="10.1" height="10.1" rx="2.4"/><rect x="1045.45" y="291.49" width="10.1" height="10.1" rx="2.4"/><rect x="1057.3" y="291.49" width="10.1" height="10.1" rx="2.4"/><rect x="1069.15" y="291.49" width="10.1" height="10.1" rx="2.4"/><rect x="938.8" y="303.32" width="10.1" height="10.1" rx="2.4"/><rect x="950.65" y="303.32" width="10.1" height="10.1" rx="2.4"/><rect x="962.5" y="303.32" width="10.1" height="10.1" rx="2.4"/><rect x="974.35" y="303.32" width="10.1" height="10.1" rx="2.4"/><rect x="986.2" y="303.32" width="10.1" height="10.1" rx="2.4"/><rect x="998.05" y="303.32" width="10.1" height="10.1" rx="2.4"/><rect x="1009.9" y="303.32" width="10.1" height="10.1" rx="2.4"/><rect x="1021.75" y="303.32" width="10.1" height="10.1" rx="2.4"/><rect x="1033.6" y="303.32" width="10.1" height="10.1" rx="2.4"/><rect x="1045.45" y="303.32" width="10.1" height="10.1" rx="2.4"/><rect x="1057.3" y="303.32" width="10.1" height="10.1" rx="2.4"/><rect x="1069.15" y="303.32" width="10.1" height="10.1" rx="2.4"/><rect x="938.8" y="315.15" width="10.1" height="10.1" rx="2.4"/><rect x="950.65" y="315.15" width="10.1" height="10.1" rx="2.4"/><rect x="962.5" y="315.15" width="10.1" height="10.1" rx="2.4"/><rect x="974.35" y="315.15" width="10.1" height="10.1" rx="2.4"/><rect x="986.2" y="315.15" width="10.1" height="10.1" rx="2.4"/><rect x="998.05" y="315.15" width="10.1" height="10.1" rx="2.4"/><rect x="1009.9" y="315.15" width="10.1" height="10.1" rx="2.4"/><rect x="1021.75" y="315.15" width="10.1" height="10.1" rx="2.4"/><rect x="1033.6" y="315.15" width="10.1" height="10.1" rx="2.4"/><rect x="1045.45" y="315.15" width="10.1" height="10.1" rx="2.4"/><rect x="1057.3" y="315.15" width="10.1" height="10.1" rx="2.4"/><rect x="1069.15" y="315.15" width="10.1" height="10.1" rx="2.4"/><rect x="938.8" y="326.98" width="10.1" height="10.1" rx="2.4"/><rect x="950.65" y="326.98" width="10.1" height="10.1" rx="2.4"/><rect x="962.5" y="326.98" width="10.1" height="10.1" rx="2.4"/><rect x="974.35" y="326.98" width="10.1" height="10.1" rx="2.4"/><rect x="986.2" y="326.98" width="10.1" height="10.1" rx="2.4"/><rect x="998.05" y="326.98" width="10.1" height="10.1" rx="2.4"/><rect x="1009.9" y="326.98" width="10.1" height="10.1" rx="2.4"/><rect x="1021.75" y="326.98" width="10.1" height="10.1" rx="2.4"/><rect x="1033.6" y="326.98" width="10.1" height="10.1" rx="2.4"/><rect x="1045.45" y="326.98" width="10.1" height="10.1" rx="2.4"/><rect x="1057.3" y="326.98" width="10.1" height="10.1" rx="2.4"/><rect x="1069.15" y="326.98" width="10.1" height="10.1" rx="2.4"/></g>
</g>
<g font-family="Liberation Sans" font-size="10" fill="#161616" text-anchor="middle">
<text x="209" y="362">&gt; 10,000 OF NODES</text>
<text x="409" y="362">&gt; 1,000 OF NODES</text>
<text x="609" y="362">&gt; 1,000 OF NODES</text>
<text x="809.3" y="362">&lt; 100 OF NODES</text>
<text x="1009" y="362">&gt; 1,000 OF NODES</text>
</g>
<g stroke="url(#hg)" stroke-width="2" fill="none" stroke-linejoin="round">
<path d="M86 370.9H1100"/>
<path d="M93.2 364.4L85.5 370.8L93.2 376.6" stroke-linecap="round"/>
</g>
<g fill="none" stroke="#00ee8c" stroke-width="1">
<rect x="132.5" y="408.5" width="151" height="33" rx="16.5"/>
<rect x="332.5" y="408.5" width="151" height="33" rx="16.5"/>
<rect x="532.5" y="408.5" width="151" height="33" rx="16.5"/>
<rect x="732.5" y="408.5" width="151" height="33" rx="16.5"/>
<rect x="932.5" y="408.5" width="151" height="33" rx="16.5"/>
</g>
<circle cx="163" cy="425" r="7" fill="#f4b698"/>
<rect x="348" y="420" width="14" height="10" fill="#fddcfa"/>
<path d="M547 420.1H556.9L559.4 429.7H544.5Z" fill="#b68bff"/>
<rect x="751.2" y="418" width="8.4" height="14" rx="4.2" fill="#5dfda0"/>
<rect x="944" y="418" width="14" height="14" rx="3" fill="#a4daff"/>
<g font-family="Liberation Sans" font-weight="bold" font-size="12" letter-spacing="0.1" fill="#0a0a0a">
<text x="179.5" y="429">Access nodes</text>
<text x="371.5" y="429">Collection nodes</text>
<text x="568.5" y="429" letter-spacing="0">Consensus nodes</text>
<text x="769" y="429" letter-spacing="0.05">Execution nodes</text>
<text x="968" y="429" letter-spacing="0.05">Verification nodes</text>
</g>
</svg>
</body></html>
